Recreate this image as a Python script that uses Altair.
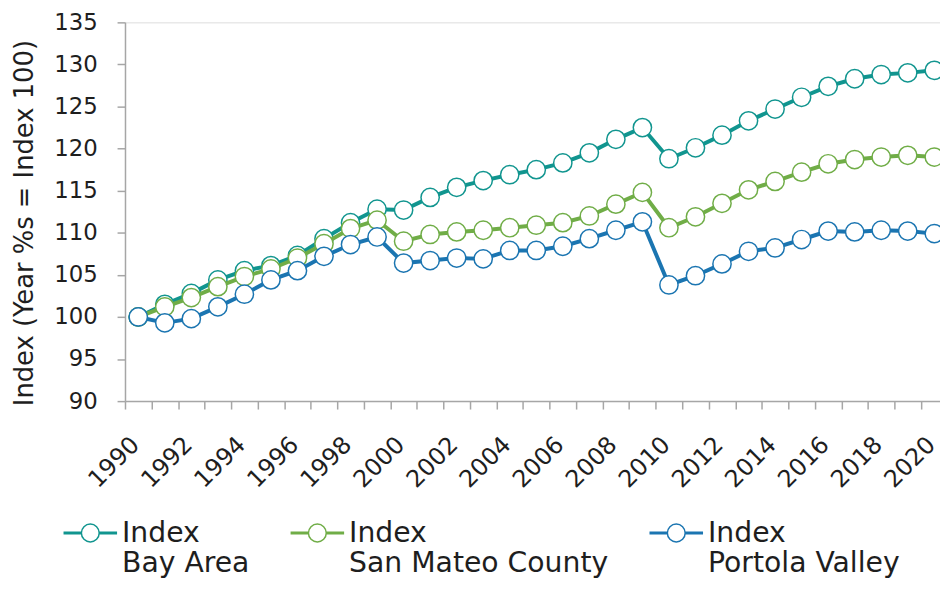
import altair as alt
import pandas as pd

years = list(range(1990, 2021))
bay_area = [100.0, 101.5, 102.8, 104.4, 105.5, 106.1, 107.3, 109.3, 111.2, 112.8,
            112.7, 114.2, 115.4, 116.2, 116.9, 117.5, 118.3, 119.5, 121.1, 122.5,
            118.8, 120.1, 121.6, 123.3, 124.7, 126.1, 127.4, 128.3, 128.8, 129.0, 129.3]
san_mateo = [100.0, 101.2, 102.3, 103.6, 104.8, 105.7, 107.0, 108.7, 110.5, 111.5,
             109.0, 109.8, 110.1, 110.3, 110.6, 110.9, 111.2, 112.0, 113.4, 114.8,
             110.6, 111.9, 113.5, 115.1, 116.1, 117.2, 118.2, 118.7, 119.0, 119.2, 119.0]
portola = [100.0, 99.3, 99.8, 101.2, 102.7, 104.4, 105.5, 107.2, 108.6, 109.5,
           106.4, 106.7, 107.0, 106.9, 107.9, 107.9, 108.4, 109.3, 110.3, 111.3,
           103.8, 104.9, 106.3, 107.8, 108.2, 109.2, 110.2, 110.1, 110.3, 110.2, 109.9]

series_names = ["Index|Bay Area", "Index|San Mateo County", "Index|Portola Valley"]
series_colors = ["#11958F", "#70AD47", "#1B75B1"]
y_ticks = [90, 95, 100, 105, 110, 115, 120, 125, 130, 135]

rows = []
for name, vals in zip(series_names, [bay_area, san_mateo, portola]):
    for yr, v in zip(years, vals):
        rows.append({"year": yr, "value": v, "series": name})
df = pd.DataFrame(rows)

FONT = "DejaVu Sans"
TXT = "#1e1e1e"
GRAY = "#A6A6A6"

legend_path = ("M-1,-0.03H-0.333M-1,0.03H-0.333M0.333,-0.03H1M0.333,0.03H1"
               "M0.333,0A0.333,0.333,0,1,1,-0.333,0A0.333,0.333,0,1,1,0.333,0")

x_enc = alt.X(
    "year:O",
    scale=alt.Scale(type="band", paddingInner=0, paddingOuter=0, range=[0, 829.6]),
    axis=alt.Axis(
        title=None, tickBand="extent",
        labelExpr="datum.value % 2 == 0 ? datum.label : ''",
        labelAngle=315, labelAlign="right", labelBaseline="middle",
        labelPadding=32, labelOffset=-3, labelFontSize=24, labelFont=FONT, labelColor=TXT,
        tickSize=8, labelOverlap=False, domainColor=GRAY, tickColor=GRAY,
        domainWidth=1.5, tickWidth=1.5, grid=False,
    ),
)
y_enc = alt.Y(
    "value:Q",
    scale=alt.Scale(domain=[90, 135], nice=False, zero=False),
    axis=alt.Axis(
        values=y_ticks, title="Index (Year %s = Index 100)",
        titleFontSize=26, titleFont=FONT, titleFontWeight="normal", titleColor=TXT,
        titleX=-101, titleY=202, titleAngle=270, titleAlign="center", titleBaseline="middle",
        labelFontSize=23, labelFont=FONT, labelColor=TXT, tickSize=8, labelPadding=20,
        domainColor=GRAY, tickColor=GRAY, domainWidth=1.5, tickWidth=1.5, grid=False,
    ),
)

color_scale = alt.Scale(domain=series_names, range=series_colors)

layers = []
for name in series_names:
    base = alt.Chart(df).transform_filter(alt.datum.series == name)
    line = base.mark_line(strokeWidth=4).encode(
        x=x_enc, y=y_enc,
        color=alt.Color(
            "series:N", scale=color_scale,
            legend=alt.Legend(
                title=None, orient="none", legendX=-63, legendY=487, direction="horizontal",
                symbolType=legend_path, symbolSize=2916, symbolStrokeWidth=1.5,
                labelExpr="split(datum.label, '|')",
                labelFontSize=28.5, labelFont=FONT, labelColor=TXT, labelLimit=500,
                labelOffset=4, columnPadding=38, padding=0, labelBaseline="middle",
            ),
        ),
    )
    pts = base.mark_point(shape="circle", filled=True, size=340, strokeWidth=1.5, opacity=1).encode(
        x=x_enc, y=y_enc,
        fill=alt.value("white"),
        stroke=alt.Stroke("series:N", scale=color_scale, legend=None),
    )
    layers += [line, pts]

chart = alt.layer(*layers).properties(
    width=822, height=382,
    autosize=alt.AutoSizeParams(type="none"),
    padding={"left": 118, "top": 12, "right": 0, "bottom": 185},
).configure_view(stroke=None).configure(font=FONT)

chart.save("out.html", embed_options={"renderer": "svg", "actions": False})
